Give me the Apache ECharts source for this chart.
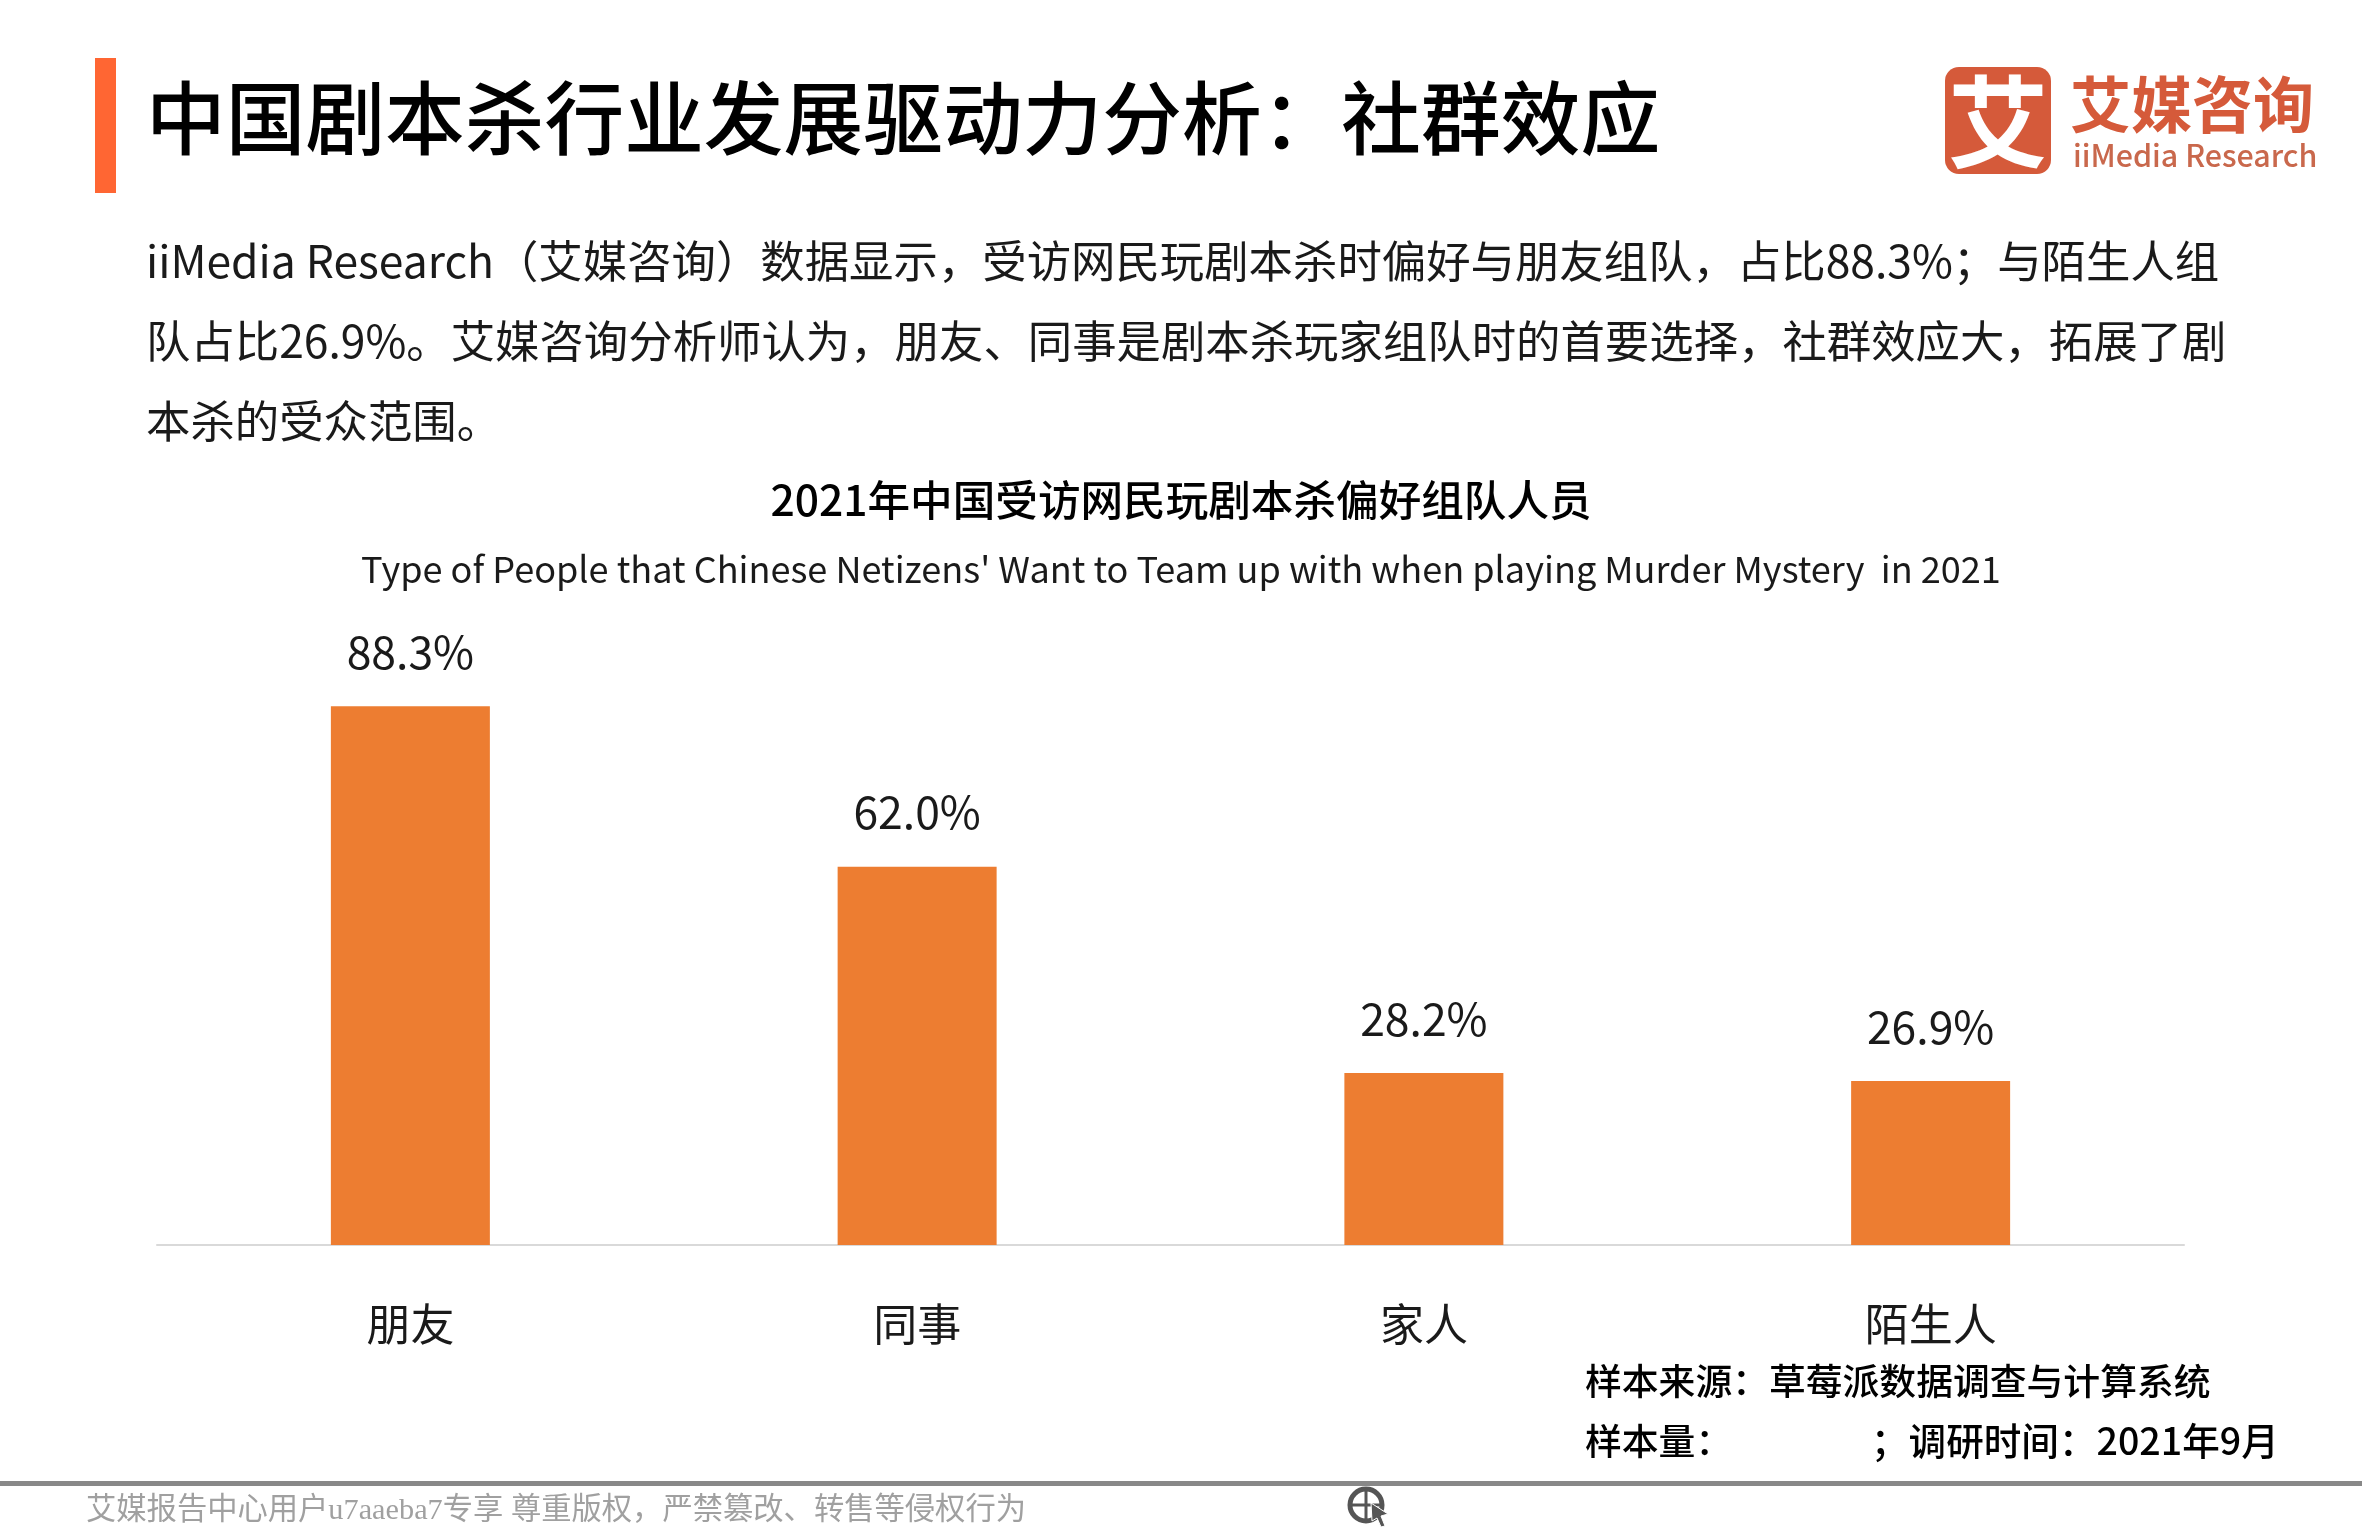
<!doctype html>
<html>
<head>
    <meta charset="utf-8">
    <title>中国剧本杀行业发展驱动力分析</title>
    <script src="https://cdn.jsdelivr.net/npm/echarts@6/dist/echarts.min.js"></script>
    <style>
        html, body { margin: 0; padding: 0; background: #fff; }
        #main { width: 2362px; height: 1535px; }
    </style>
</head>
<body>
    <div id="main"></div>
    <script type="text/javascript">
        var categories = ['朋友', '同事', '家人', '陌生人'];
        var shares = [88.3, 62.0, 28.2, 26.9];

        var headline = '中国剧本杀行业发展驱动力分析：社群效应';
        var bodyLines = [
            'iiMedia Research（艾媒咨询）数据显示，受访网民玩剧本杀时偏好与朋友组队，占比88.3%；与陌生人组',
            '队占比26.9%。艾媒咨询分析师认为，朋友、同事是剧本杀玩家组队时的首要选择，社群效应大，拓展了剧',
            '本杀的受众范围。'
        ];
        var chartTitle = '2021年中国受访网民玩剧本杀偏好组队人员';
        var chartSubtitle = "Type of People that Chinese Netizens' Want to Team up with when playing Murder Mystery  in 2021";

        var FONT = '"Noto Sans CJK SC", "Noto Sans", sans-serif';

        // 文字都走 graphic，位置按原图量的
        function text(x, y, str, size, color, weight, align, family) {
            return {
                type: 'text',
                x: x,
                y: y,
                style: {
                    text: str,
                    fontFamily: family || FONT,
                    fontSize: size,
                    fontWeight: weight || 'normal',
                    fill: color,
                    align: align || 'left',
                    verticalAlign: 'middle'
                }
            };
        }

        var elements = [
            { type: 'rect', shape: { x: 95, y: 58, width: 21, height: 135 }, style: { fill: '#FF6633' } },
            text(146, 118, headline, 79.7, '#000', 500),
            text(146, 261, bodyLines[0], 44.4, '#1a1a1a'),
            text(146, 341, bodyLines[1], 44.4, '#1a1a1a'),
            text(146, 421, bodyLines[2], 44.4, '#1a1a1a'),
            text(1181, 500, chartTitle, 42.6, '#000', 500, 'center'),
            text(1181, 569, chartSubtitle, 36.1, '#1a1a1a', 'normal', 'center'),

            // logo
            { type: 'rect', shape: { x: 1945, y: 67, width: 106, height: 107, r: 14 }, style: { fill: '#D55A3A' } },
            text(1998, 122, '艾', 100, '#fff', 'bold', 'center'),
            text(2070, 105, '艾媒咨询', 61, '#D55A3A', 'bold'),
            text(2073, 155, 'iiMedia Research', 30.4, '#C9684C', 500),

            // 样本信息
            text(1585, 1381, '样本来源：草莓派数据调查与计算系统', 36.8, '#000', 500),
            text(1585, 1441, '样本量：', 36.8, '#000', 500),
            text(1871, 1441, '；调研时间：2021年9月', 37.6, '#000', 500),

            // 底部
            { type: 'rect', shape: { x: 0, y: 1481, width: 2362, height: 5 }, style: { fill: '#888' } },
            text(86, 1511, '艾媒报告中心用户u7aaeba7专享 尊重版权，严禁篡改、转售等侵权行为', 30.3, '#a0a0a0', 'normal', 'left', '"Liberation Serif", "Noto Sans CJK SC", serif'),
            { type: 'circle', shape: { cx: 1366, cy: 1505, r: 16 }, style: { fill: 'none', stroke: '#555', lineWidth: 5 } },
            { type: 'line', shape: { x1: 1350, y1: 1505, x2: 1382, y2: 1505 }, style: { stroke: '#555', lineWidth: 3 } },
            { type: 'line', shape: { x1: 1366, y1: 1489, x2: 1366, y2: 1521 }, style: { stroke: '#555', lineWidth: 3 } },
            { type: 'polygon', shape: { points: [[1371, 1503], [1388, 1514], [1381, 1516], [1385, 1526], [1381, 1527], [1377, 1518], [1372, 1521]] }, style: { fill: '#555', stroke: '#fff', lineWidth: 1 } }
        ];

        var myChart = echarts.init(document.getElementById('main'));
        var option = {
            animation: false,
            backgroundColor: '#fff',
            graphic: { elements: elements },
            grid: { left: 157, right: 178, top: 635, bottom: 290 },
            xAxis: {
                type: 'category',
                data: categories,
                axisTick: { show: false },
                axisLine: { lineStyle: { color: '#D9D9D9', width: 2 } },
                axisLabel: { color: '#1a1a1a', fontSize: 44, fontFamily: FONT, margin: 57 }
            },
            yAxis: { type: 'value', min: 0, max: 100, show: false },
            series: [
                {
                    type: 'bar',
                    data: shares,
                    barWidth: 159,
                    itemStyle: { color: '#ED7D31' },
                    label: {
                        show: true,
                        position: 'top',
                        distance: 32,
                        color: '#1a1a1a',
                        fontSize: 44.5,
                        fontFamily: FONT,
                        formatter: function (p) { return p.value.toFixed(1) + '%'; }
                    }
                }
            ]
        };
        myChart.setOption(option);
    </script>
</body>
</html>
